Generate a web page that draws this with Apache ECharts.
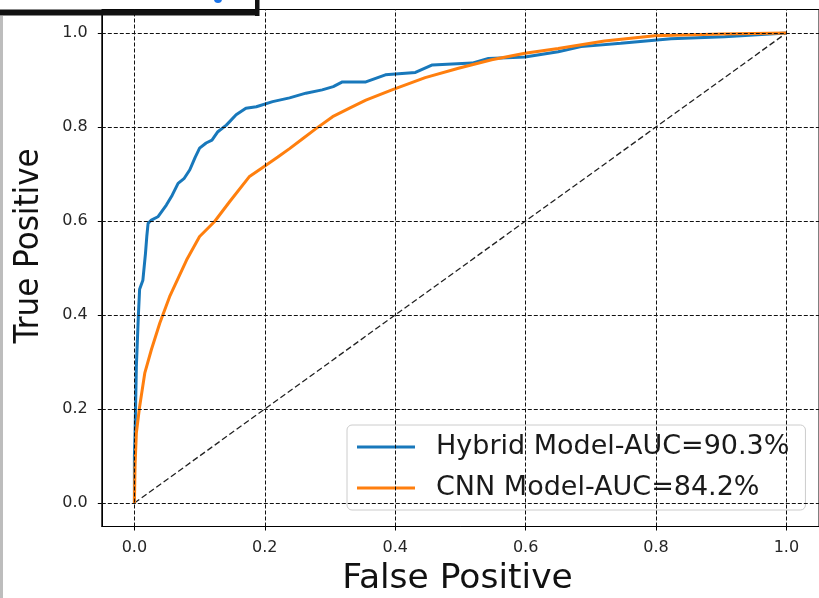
<!DOCTYPE html>
<html>
<head>
<meta charset="utf-8">
<script src="https://cdn.jsdelivr.net/npm/echarts@6/dist/echarts.min.js"></script>
<style>
html,body{margin:0;padding:0;background:#fff;}
#chart{width:819px;height:598px;}
</style>
</head>
<body>
<div id="chart"></div>
<script>
// ---- data ----
const hybridName = 'Hybrid Model-AUC=90.3%';
const cnnName = 'CNN Model-AUC=84.2%';
const hybridFpr = [0, 0.0, 0.001, 0.003, 0.006, 0.008, 0.013, 0.017, 0.019, 0.021, 0.026, 0.036, 0.049, 0.058, 0.067, 0.076, 0.085, 0.093, 0.1, 0.11, 0.119, 0.128, 0.141, 0.156, 0.171, 0.187, 0.212, 0.238, 0.263, 0.288, 0.305, 0.319, 0.355, 0.385, 0.431, 0.457, 0.518, 0.543, 0.599, 0.65, 0.685, 0.746, 0.823, 0.905, 1];
const hybridTpr = [0, 0.1, 0.149, 0.29, 0.396, 0.455, 0.474, 0.531, 0.567, 0.595, 0.602, 0.609, 0.634, 0.655, 0.68, 0.69, 0.709, 0.735, 0.755, 0.766, 0.772, 0.79, 0.804, 0.826, 0.84, 0.843, 0.854, 0.862, 0.872, 0.879, 0.886, 0.896, 0.896, 0.911, 0.916, 0.932, 0.936, 0.946, 0.949, 0.96, 0.971, 0.978, 0.988, 0.992, 1];
const cnnFpr = [0, 0.001, 0.003, 0.008, 0.016, 0.026, 0.039, 0.054, 0.08, 0.1, 0.123, 0.146, 0.176, 0.199, 0.22, 0.238, 0.258, 0.278, 0.304, 0.33, 0.355, 0.395, 0.446, 0.497, 0.548, 0.599, 0.65, 0.721, 0.798, 0.9, 1];
const cnnTpr = [0, 0.08, 0.149, 0.205, 0.277, 0.326, 0.383, 0.439, 0.517, 0.567, 0.599, 0.641, 0.694, 0.716, 0.736, 0.754, 0.775, 0.796, 0.822, 0.84, 0.857, 0.879, 0.905, 0.925, 0.943, 0.957, 0.967, 0.983, 0.994, 0.998, 1];
const diagonal = [[0, 0], [1, 1]];
const xTicks = [0, 0.2, 0.4, 0.6, 0.8, 1.0];
const yTicks = [0, 0.2, 0.4, 0.6, 0.8, 1.0];
const xTitle = 'False Positive';
const yTitle = 'True Positive';

// ---- chart ----
const FONT = 'DejaVu Sans';
const zip = (a, b) => a.map((v, i) => [v, b[i]]);
const chart = echarts.init(document.getElementById('chart'), null, {renderer: 'canvas'});

const axisCommon = {
  type: 'value', min: -0.05, max: 1.05,
  axisLine: {show: true, onZero: false, lineStyle: {color: '#000', width: 1}},
  axisTick: {show: true, inside: false, length: 4, lineStyle: {color: '#000', width: 1}},
  splitLine: {show: false}
};

const option = {
  animation: false,
  backgroundColor: '#ffffff',
  grid: {left: 101.8, top: 9.5, width: 720, height: 517, show: true, borderColor: '#000', borderWidth: 1, backgroundColor: 'transparent'},
  xAxis: Object.assign({}, axisCommon, {
    axisTick: Object.assign({}, axisCommon.axisTick, {customValues: xTicks}),
    axisLabel: {customValues: xTicks, formatter: v => v.toFixed(1), margin: 13, fontFamily: FONT, fontSize: 16, color: '#262626'}
  }),
  yAxis: Object.assign({}, axisCommon, {
    axisTick: Object.assign({}, axisCommon.axisTick, {customValues: yTicks}),
    axisLabel: {customValues: yTicks, formatter: v => v.toFixed(1), margin: 14, fontFamily: FONT, fontSize: 16, color: '#262626'}
  }),
  legend: {
    data: [hybridName, cnnName],
    orient: 'vertical', left: 347, top: 425,
    padding: [7, 16, 7, 10],
    itemGap: 11, itemWidth: 58, itemHeight: 3, icon: 'rect',
    backgroundColor: 'rgba(255,255,255,0.8)', borderColor: '#cccccc', borderWidth: 1, borderRadius: 5,
    textStyle: {fontFamily: FONT, fontSize: 27, color: '#1a1a1a', lineHeight: 30, padding: [0, 0, 0, 16]}
  },
  series: [
    {
      type: 'line', name: 'diag', data: diagonal, showSymbol: false, z: 1, silent: true,
      lineStyle: {color: '#222', width: 1.3, type: [6, 3]},
      markLine: {
        silent: true, symbol: 'none', label: {show: false},
        lineStyle: {color: '#111', width: 1, type: [4, 2]},
        data: xTicks.map(v => ({xAxis: v})).concat(yTicks.map(v => ({yAxis: v})))
      }
    },
    {
      type: 'line', name: hybridName, data: zip(hybridFpr, hybridTpr), showSymbol: false, z: 3,
      itemStyle: {color: '#1878bb'}, lineStyle: {color: '#1878bb', width: 3}
    },
    {
      type: 'line', name: cnnName, data: zip(cnnFpr, cnnTpr), showSymbol: false, z: 4,
      itemStyle: {color: '#ff7f0e'}, lineStyle: {color: '#ff7f0e', width: 3}
    }
  ],
  graphic: [
    {type: 'text', x: 457.5, y: 579, style: {text: xTitle, font: '34.5px "DejaVu Sans"', fill: '#111', align: 'center', verticalAlign: 'middle'}},
    {type: 'text', x: 29, y: 246, rotation: Math.PI / 2, scaleY: 1.1, style: {text: yTitle, font: '31px "DejaVu Sans"', fill: '#111', align: 'center', verticalAlign: 'middle'}},
    {type: 'rect', shape: {x: 0, y: 0, width: 256, height: 9}, style: {fill: '#fff'}, z: 50},
    {type: 'rect', shape: {x: 0, y: 16, width: 3, height: 582}, style: {fill: '#bdbdbd'}, z: 50},
    {type: 'rect', shape: {x: 0, y: 9.5, width: 259, height: 6}, style: {fill: '#111'}, z: 51},
    {type: 'rect', shape: {x: 255, y: 0, width: 4.5, height: 16}, style: {fill: '#111'}, z: 51},
    {type: 'circle', shape: {cx: 218, cy: -1, r: 4}, style: {fill: '#1a73e8'}, z: 51}
  ]
};
chart.setOption(option);
</script>
</body>
</html>
